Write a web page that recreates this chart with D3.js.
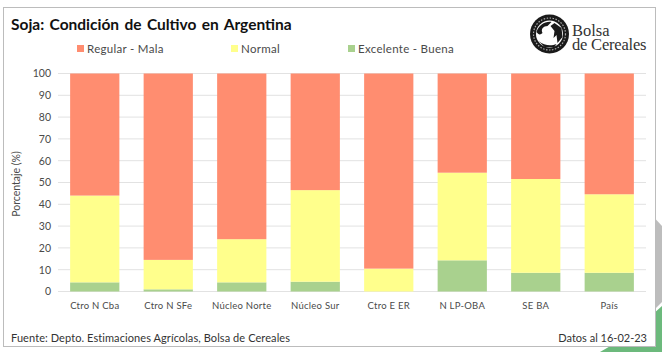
<!DOCTYPE html>
<html>
<head>
<meta charset="utf-8">
<script src="https://cdnjs.cloudflare.com/ajax/libs/d3/7.8.5/d3.min.js"></script>
<style>
  html, body { margin: 0; padding: 0; background: #fff; overflow: hidden; }
  svg { display: block; font-family: Lato, "Open Sans", sans-serif; }
  .yAxis path, .xAxis path { display: none; }
  .yAxis line, .xAxis line { display: none; }
  .tick text { fill: #4a4a4a; }
</style>
</head>
<body>
<svg id="chart"></svg>
<script>
const categories = ["Ctro N Cba", "Ctro N SFe", "Núcleo Norte", "Núcleo Sur", "Ctro E ER", "N LP-OBA", "SE BA", "País"];
const excelente = [4.2, 1, 4.2, 4.5, 0, 14.3, 8.6, 8.6];
const normal = [39.8, 13.5, 19.8, 42, 10.5, 40.2, 43, 36];
const regular = [56, 85.5, 76, 53.5, 89.5, 45.5, 48.4, 55.4];
const yTicks = [0, 10, 20, 30, 40, 50, 60, 70, 80, 90, 100];
const seriesKeys = ["excelente", "normal", "regular"];
const seriesColors = { excelente: "#a9d18e", normal: "#ffff8c", regular: "#ff8d70" };

const width = 662, height = 352;
const margin = { top: 73.5, bottom: 60.5, right: 16, left: 58 };
const innerW = width - margin.left - margin.right;
const innerH = height - margin.top - margin.bottom;

const svg = d3.select("#chart").attr("width", width).attr("height", height);

// background shapes behind the card, bottom right corner
svg.append("path").attr("d", "M650,213 L662,226 L662,302 L650,314 Z").attr("fill", "#bdbdbd");
svg.append("path").attr("d", "M600,352 C622,340 645,322 662,306 L662,352 Z").attr("fill", "#6cb97c");

svg.append("rect")
  .attr("x", 3.5).attr("y", 7.5)
  .attr("width", 652).attr("height", 339)
  .attr("fill", "#fff")
  .attr("stroke", "#bcbcbc")
  .attr("stroke-width", 1);

const chart = svg.append("g").attr("transform", `translate(${margin.left},${margin.top})`);

const xScale = d3.scaleBand().domain(categories).range([0, innerW]).paddingInner(0.33).paddingOuter(0.165);
const yScale = d3.scaleLinear().domain([0, 100]).range([innerH, 0]);

const yAxis = d3.axisLeft(yScale).tickValues(yTicks).tickSize(0).tickPadding(7);
const xAxis = d3.axisBottom(xScale).tickSize(0).tickPadding(10.5);

// gridlines
chart.selectAll(".grid")
  .data(yTicks)
  .join("line")
  .attr("class", "grid")
  .attr("x1", 0).attr("x2", innerW)
  .attr("y1", d => yScale(d)).attr("y2", d => yScale(d))
  .attr("stroke", "#e2e2e2")
  .attr("stroke-width", 1);

const rows = categories.map((c, i) => ({ cat: c, excelente: excelente[i], normal: normal[i], regular: regular[i] }));
const stacked = d3.stack().keys(seriesKeys)(rows);

chart.selectAll(".series")
  .data(stacked)
  .join("g")
  .attr("class", "series")
  .attr("fill", d => seriesColors[d.key])
  .selectAll("rect")
  .data(d => d)
  .join("rect")
  .attr("x", d => xScale(d.data.cat))
  .attr("y", d => yScale(d[1]))
  .attr("width", xScale.bandwidth())
  .attr("height", d => yScale(d[0]) - yScale(d[1]));

chart.append("g").attr("class", "yAxis").call(yAxis)
  .selectAll("text").style("font-size", "10.5px").style("font-family", "Lato");
chart.append("g").attr("class", "xAxis").attr("transform", `translate(0,${innerH})`).call(xAxis)
  .selectAll("text").style("font-size", "9.5px").style("font-family", "Lato").style("letter-spacing", "0.25px");

svg.append("text")
  .attr("transform", "translate(20,184) rotate(-90)")
  .attr("text-anchor", "middle")
  .attr("fill", "#4a4a4a")
  .style("font-size", "10.5px")
  .text("Porcentaje (%)");

svg.append("text")
  .attr("x", 11).attr("y", 30)
  .attr("fill", "#111")
  .attr("font-weight", "bold")
  .style("font-size", "15.5px")
  .style("word-spacing", "1.6px")
  .text("Soja: Condición de Cultivo en Argentina");

// legend
const legendItems = [
  { key: "regular", label: "Regular - Mala", x: 77 },
  { key: "normal", label: "Normal", x: 231 },
  { key: "excelente", label: "Excelente - Buena", x: 348 }
];
const legend = svg.selectAll(".legendItem")
  .data(legendItems)
  .join("g")
  .attr("class", "legendItem")
  .attr("transform", d => `translate(${d.x},45)`);
legend.append("rect").attr("width", 7).attr("height", 7).attr("fill", d => seriesColors[d.key]);
legend.append("text")
  .attr("x", 10).attr("y", 8)
  .attr("fill", "#4a4a4a")
  .style("font-size", "11.5px")
  .style("letter-spacing", "0.3px")
  .text(d => d.label);

svg.append("text")
  .attr("x", 11).attr("y", 342)
  .attr("fill", "#333")
  .style("font-size", "11px")
  .style("letter-spacing", "0.08px")
  .text("Fuente: Depto. Estimaciones Agrícolas, Bolsa de Cereales");

svg.append("text")
  .attr("x", 647).attr("y", 342)
  .attr("text-anchor", "end")
  .attr("fill", "#333")
  .style("font-size", "11px")
  .text("Datos al 16-02-23");

// logo
const logo = svg.append("g").attr("transform", "translate(549.5,34)");
logo.append("circle").attr("r", 19.5).attr("fill", "#1a1a1a");
logo.append("circle").attr("r", 16).attr("fill", "none").attr("stroke", "#aaa").attr("stroke-width", 1.2).attr("stroke-dasharray", "1.5 1.5");
logo.append("circle").attr("r", 13.5).attr("fill", "#fff");
logo.append("path").attr("d", "M-13,-2 C-11,-9 -4,-13 2,-12 L-2,-8 C-6,-8 -9,-5 -7,-1 C-9,1 -11,1 -13,-2 Z").attr("fill", "#1a1a1a");
logo.append("path").attr("d", "M1,-8 L5,-11 L12,-6 L13,3 L8,9 L7,1 L4,4 L5,-3 Z").attr("fill", "#1a1a1a");
logo.append("path").attr("d", "M-11,7 C-5,12 2,12 7,10 L5,13 L-5,13 Z").attr("fill", "#1a1a1a");

const logoText = svg.append("g")
  .attr("fill", "#333")
  .style("font-family", "'Liberation Serif', serif")
  .style("font-size", "16.5px");
logoText.append("text").attr("x", 572).attr("y", 35.5).text("Bolsa");
logoText.append("text").attr("x", 572).attr("y", 50).style("letter-spacing", "-0.2px").text("de Cereales");
</script>
</body>
</html>
